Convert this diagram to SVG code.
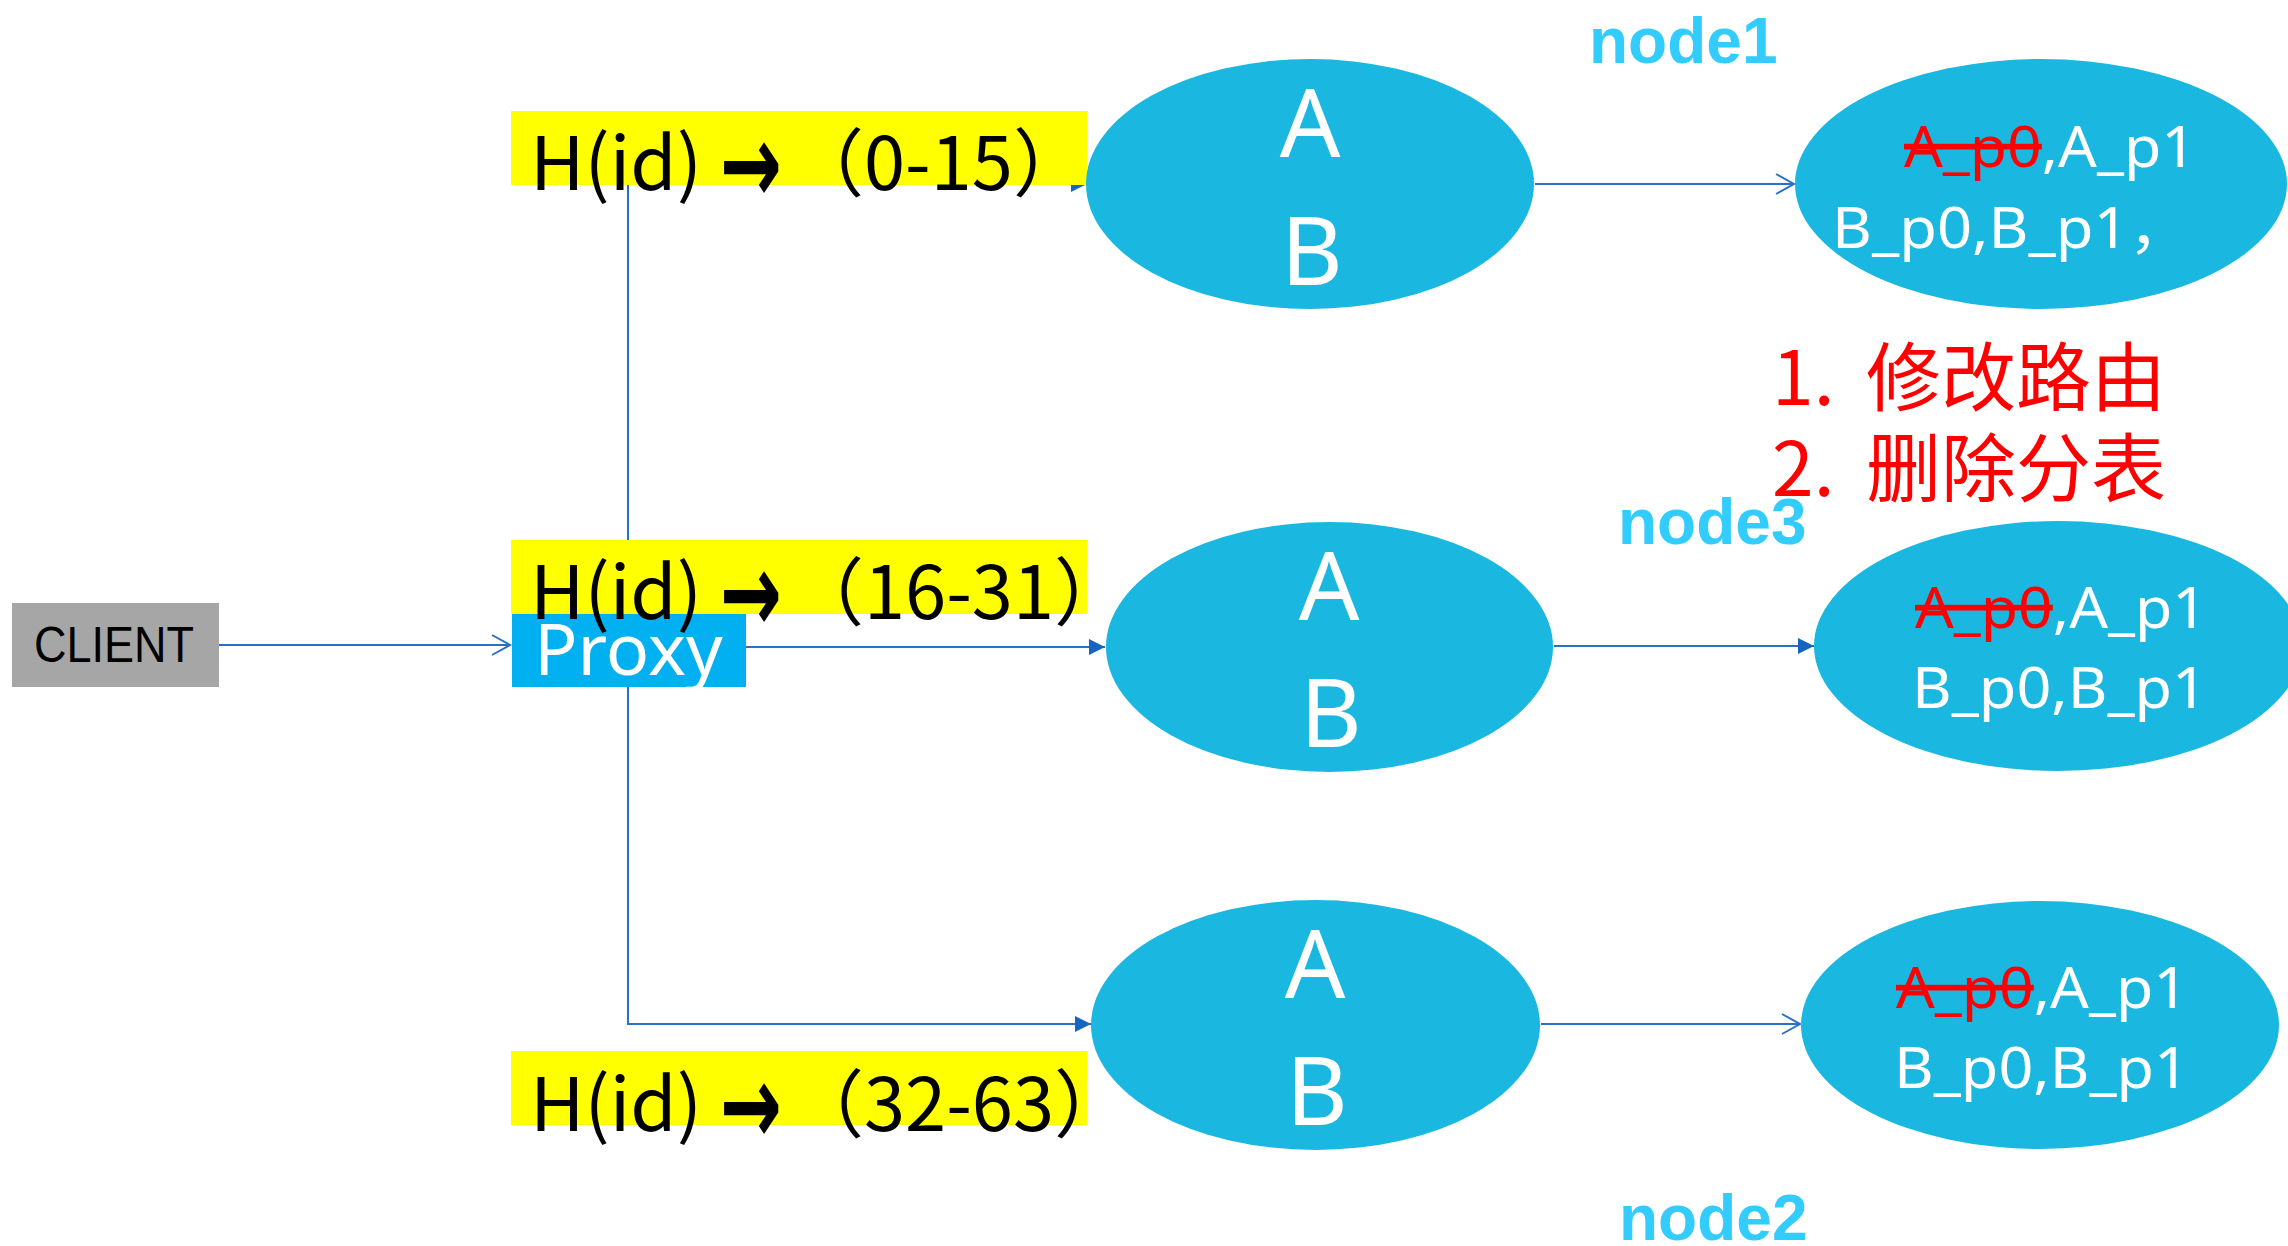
<svg xmlns="http://www.w3.org/2000/svg" width="2288" height="1246" viewBox="0 0 2288 1246">
<style>
.conn{fill:none;stroke:#2a6fc9;stroke-width:2}
.ell{fill:#1ab8e0}
.yel{fill:#ffff00}
.hl{font-family:"Noto Sans CJK SC","Noto Sans",sans-serif;font-size:74px;fill:#000}
.arr{font-family:"DejaVu Sans",sans-serif;font-weight:bold;font-size:112px}
.big{font-family:"Noto Sans","Liberation Sans",sans-serif;font-size:95px;fill:#fff;text-anchor:middle}
.part{font-family:"Noto Sans","Noto Sans CJK SC",sans-serif;font-size:57px;fill:#fff}
.del{fill:#ff0000;text-decoration:line-through}
.nl{font-family:"Liberation Sans",Arial,sans-serif;font-weight:bold;font-size:64px;fill:#33ccff}
.note{font-family:"Noto Sans CJK SC",sans-serif;font-size:75px;fill:#ff0000}
</style>
<defs>
<marker id="fill" markerUnits="userSpaceOnUse" markerWidth="18" markerHeight="16" refX="16" refY="8" orient="auto"><path d="M0,0 L16,8 L0,16 Z" fill="#1565c0"/></marker>
<marker id="open" markerUnits="userSpaceOnUse" markerWidth="22" markerHeight="24" refX="19" refY="11" orient="auto"><path d="M1,1 L19,11 L1,21" fill="none" stroke="#2a6fc9" stroke-width="2"/></marker>
</defs>
<rect width="2288" height="1246" fill="#fff"/>
<g id="connectors">
<path class="conn" d="M219,645 H510" marker-end="url(#open)"/>
<path class="conn" d="M628,614 V184 H1087" marker-end="url(#fill)"/>
<path class="conn" d="M746,647 H1105" marker-end="url(#fill)"/>
<path class="conn" d="M628,687 V1024 H1091" marker-end="url(#fill)"/>
<path class="conn" d="M1535,184 H1794" marker-end="url(#open)"/>
<path class="conn" d="M1554,646 H1814" marker-end="url(#fill)"/>
<path class="conn" d="M1541,1024 H1800" marker-end="url(#open)"/>
</g>
<g id="client">
<rect x="12" y="603" width="207" height="84" fill="#a6a6a6"/>
<text x="34" y="662" font-family="Liberation Sans,Arial,sans-serif" font-size="50" textLength="160" lengthAdjust="spacingAndGlyphs" fill="#000">CLIENT</text>
</g>
<g id="proxy">
<rect x="512" y="614" width="234" height="73" fill="#00b0f0"/>
<text x="534" y="675" font-family="Noto Sans,sans-serif" font-size="72" fill="#fff">Proxy</text>
</g>
<g id="range1">
<rect class="yel" x="511" y="111" width="576" height="74"/>
<text class="hl" y="190"><tspan x="530" textLength="172" lengthAdjust="spacingAndGlyphs">H(id)</tspan><tspan class="arr" x="720" y="203" textLength="62" lengthAdjust="spacingAndGlyphs">→</tspan><tspan x="790" y="190">（0-15）</tspan></text>
</g>
<g id="range2">
<rect class="yel" x="511" y="540" width="576" height="74"/>
<text class="hl" y="619"><tspan x="530" textLength="172" lengthAdjust="spacingAndGlyphs">H(id)</tspan><tspan class="arr" x="720" y="632" textLength="62" lengthAdjust="spacingAndGlyphs">→</tspan><tspan x="790" y="619">（16-31）</tspan></text>
</g>
<g id="range3">
<rect class="yel" x="511" y="1051" width="576" height="74"/>
<text class="hl" y="1131"><tspan x="530" textLength="172" lengthAdjust="spacingAndGlyphs">H(id)</tspan><tspan class="arr" x="720" y="1144" textLength="62" lengthAdjust="spacingAndGlyphs">→</tspan><tspan x="790" y="1131">（32-63）</tspan></text>
</g>
<g id="node1-db">
<ellipse class="ell" cx="1310" cy="184" rx="224" ry="125"/>
<text class="big" x="1310" y="157">A</text>
<text class="big" x="1312" y="285">B</text>
</g>
<g id="node3-db">
<ellipse class="ell" cx="1329.5" cy="647" rx="223.5" ry="125"/>
<text class="big" x="1329" y="620">A</text>
<text class="big" x="1331" y="747">B</text>
</g>
<g id="node2-db">
<ellipse class="ell" cx="1315.5" cy="1025" rx="224.5" ry="125"/>
<text class="big" x="1315" y="998">A</text>
<text class="big" x="1317" y="1125">B</text>
</g>
<g id="node1-tables">
<ellipse class="ell" cx="2041" cy="184" rx="246" ry="125"/>
<text class="part" x="1904" y="167" textLength="292" lengthAdjust="spacingAndGlyphs"><tspan class="del">A_p0</tspan>,A_p1</text>
<text class="part" x="1832" y="248" textLength="358" lengthAdjust="spacingAndGlyphs">B_p0,B_p1，</text>
</g>
<g id="node3-tables">
<ellipse class="ell" cx="2058" cy="646" rx="244" ry="125"/>
<text class="part" x="1915" y="628" textLength="292" lengthAdjust="spacingAndGlyphs"><tspan class="del">A_p0</tspan>,A_p1</text>
<text class="part" x="1912" y="708" textLength="295" lengthAdjust="spacingAndGlyphs">B_p0,B_p1</text>
</g>
<g id="node2-tables">
<ellipse class="ell" cx="2040" cy="1025" rx="239" ry="124"/>
<text class="part" x="1896" y="1008" textLength="292" lengthAdjust="spacingAndGlyphs"><tspan class="del">A_p0</tspan>,A_p1</text>
<text class="part" x="1894" y="1088" textLength="295" lengthAdjust="spacingAndGlyphs">B_p0,B_p1</text>
</g>
<g id="labels">
<text class="nl" x="1589" y="63">node1</text>
<text class="nl" x="1618" y="544">node3</text>
<text class="nl" x="1619" y="1240">node2</text>
</g>
<g id="note">
<text class="note" y="405"><tspan x="1772">1. </tspan><tspan x="1866">修改路由</tspan></text>
<text class="note" y="496"><tspan x="1772">2. </tspan><tspan x="1866">删除分表</tspan></text>
</g>
</svg>
